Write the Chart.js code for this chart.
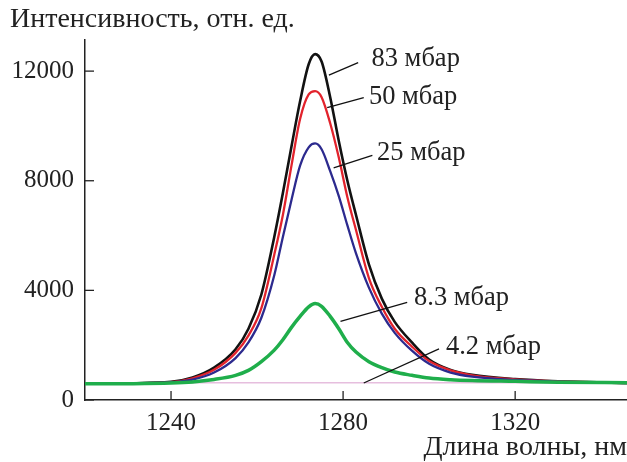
<!DOCTYPE html>
<html>
<head>
<meta charset="utf-8">
<script src="https://cdn.jsdelivr.net/npm/chart.js@4.4.0/dist/chart.umd.min.js"></script>
<style>
  body { margin: 0; background: #fff; }
  #wrap { width: 627px; height: 462px; }
</style>
</head>
<body>
<div id="wrap"><canvas id="spectra"></canvas></div>
<script>
// wavelength grid, nm
const wavelengths = [1220, 1230, 1240, 1245, 1250, 1255, 1258, 1261, 1264, 1266, 1268, 1270, 1272, 1273.5,
    1275, 1277, 1279, 1281, 1283, 1286, 1289, 1292, 1296, 1300, 1305, 1310, 1320, 1330, 1346];

// intensity, arb. units
const p83 = [600, 610, 660, 820, 1180, 1850, 2600, 3850, 5950, 7550, 9250, 10900, 12250, 12620,
    12350, 11050, 9450, 8000, 6750, 4950, 3700, 2850, 2100, 1480, 1100, 920, 760, 680, 620];
const p50 = [600, 610, 650, 790, 1100, 1720, 2350, 3350, 5300, 6750, 8550, 10250, 11150, 11270,
    11050, 10100, 8850, 7400, 6200, 4450, 3400, 2600, 1950, 1420, 1080, 900, 750, 675, 620];
const p25 = [600, 605, 640, 740, 1000, 1530, 2100, 3000, 4550, 5950, 7300, 8550, 9220, 9360,
    9150, 8350, 7440, 6370, 5350, 4100, 3150, 2450, 1800, 1320, 1000, 850, 730, 670, 620];
const p8 = [590, 595, 620, 660, 750, 900, 1080, 1400, 1820, 2200, 2650, 3050, 3400, 3520,
    3420, 3050, 2600, 2100, 1750, 1400, 1180, 1020, 900, 800, 740, 710, 680, 650, 630];
const p4 = [625, 625, 625, 625, 625, 625, 625, 625, 625, 625, 625, 625, 625, 625,
    625, 625, 625, 625, 625, 625, 625, 625, 625, 625, 625, 625, 625, 625, 625];

const xTicks = [1240, 1280, 1320];
const yTicks = [0, 4000, 8000, 12000];

const seriesNames = ['83 мбар', '50 мбар', '25 мбар', '8.3 мбар', '4.2 мбар'];

// callouts: curve point -> label start (data units)
const callouts = [
    { text: seriesNames[0], from: [1276.7, 11855], to: [1283.5, 12308], at: [1286.6, 12454] },
    { text: seriesNames[1], from: [1276.3, 10665], to: [1284.8, 11030], at: [1286.0, 11041] },
    { text: seriesNames[2], from: [1277.8, 8473], to: [1286.8, 8922], at: [1287.9, 8995] },
    { text: seriesNames[3], from: [1279.4, 2871], to: [1294.9, 3565], at: [1296.5, 3725] },
    { text: seriesNames[4], from: [1284.8, 621], to: [1302.3, 1863], at: [1303.9, 1947] },
];

const FONT = '"Liberation Serif", "DejaVu Serif", serif';
const FSIZE = 25;
const INK = '#222';

const pts = (ys) => wavelengths.map((x, i) => ({ x: x, y: ys[i] }));

const line = (label, ys, color, width, order) => ({
    label: label,
    data: pts(ys),
    borderColor: color,
    borderWidth: width,
    pointRadius: 0,
    fill: false,
    cubicInterpolationMode: 'monotone',
    order: order
});

const innerTicks = {
    id: 'innerTicks',
    afterDraw(chart) {
        const ctx = chart.ctx;
        const xs = chart.scales.x, ys = chart.scales.y;
        ctx.save();
        ctx.strokeStyle = INK;
        ctx.lineWidth = 1.3;
        xTicks.forEach(v => {
            const px = xs.getPixelForValue(v);
            ctx.beginPath();
            ctx.moveTo(px, ys.bottom);
            ctx.lineTo(px, ys.bottom - 9);
            ctx.stroke();
        });
        yTicks.forEach(v => {
            const py = ys.getPixelForValue(v);
            ctx.beginPath();
            ctx.moveTo(xs.left, py);
            ctx.lineTo(xs.left + 9, py);
            ctx.stroke();
        });
        ctx.restore();
    }
};

const calloutPlugin = {
    id: 'callouts',
    afterDatasetsDraw(chart) {
        const ctx = chart.ctx;
        const xs = chart.scales.x, ys = chart.scales.y;
        ctx.save();
        ctx.strokeStyle = '#111';
        ctx.lineWidth = 1.3;
        ctx.fillStyle = INK;
        ctx.font = '26.5px ' + FONT;
        ctx.textBaseline = 'middle';
        ctx.textAlign = 'left';
        callouts.forEach(c => {
            ctx.beginPath();
            ctx.moveTo(xs.getPixelForValue(c.from[0]), ys.getPixelForValue(c.from[1]));
            ctx.lineTo(xs.getPixelForValue(c.to[0]), ys.getPixelForValue(c.to[1]));
            ctx.stroke();
            ctx.fillText(c.text, xs.getPixelForValue(c.at[0]), ys.getPixelForValue(c.at[1]));
        });
        ctx.restore();
    }
};

window.spectraChart = new Chart(document.getElementById('spectra'), {
    type: 'line',
    data: {
        datasets: [
            line(seriesNames[4], p4, '#e6bede', 1.5, 5),
            line(seriesNames[0], p83, '#121212', 2.6, 4),
            line(seriesNames[1], p50, '#e2232c', 2.3, 3),
            line(seriesNames[2], p25, '#2c2a8e', 2.3, 2),
            line(seriesNames[3], p8, '#1fae4b', 3.5, 1),
        ]
    },
    options: {
        responsive: true,
        maintainAspectRatio: false,
        animation: false,
        layout: {
            padding: { left: 10, right: 0, top: 3, bottom: 0 }
        },
        plugins: {
            legend: { display: false },
            tooltip: { enabled: false },
            title: {
                display: true,
                text: 'Интенсивность, отн. ед.',
                align: 'start',
                color: INK,
                font: { family: FONT, size: 28, weight: 'normal', lineHeight: 1.2 },
                padding: { top: 0, bottom: 3 }
            }
        },
        scales: {
            x: {
                type: 'linear',
                min: 1220,
                max: 1346,
                afterBuildTicks: s => { s.ticks = xTicks.map(v => ({ value: v })); },
                afterFit: s => { s.height = 62; },
                grid: { display: false, drawTicks: false },
                border: { display: true, color: INK, width: 1.5 },
                ticks: {
                    color: INK,
                    padding: 8,
                    font: { family: FONT, size: FSIZE },
                    callback: v => String(v)
                },
                title: {
                    display: true,
                    text: 'Длина волны, нм',
                    align: 'end',
                    color: INK,
                    font: { family: FONT, size: 28, lineHeight: 1.0 },
                    padding: { top: 0, bottom: 0 }
                }
            },
            y: {
                min: 0,
                max: 13150,
                afterBuildTicks: s => { s.ticks = yTicks.map(v => ({ value: v })); },
                afterFit: s => { s.width = 75; },
                grid: { display: false, drawTicks: false },
                border: { display: true, color: INK, width: 1.5 },
                ticks: {
                    color: INK,
                    padding: 11,
                    font: { family: FONT, size: FSIZE },
                    callback: v => String(v)
                }
            }
        }
    },
    plugins: [innerTicks, calloutPlugin]
});
</script>
</body>
</html>
